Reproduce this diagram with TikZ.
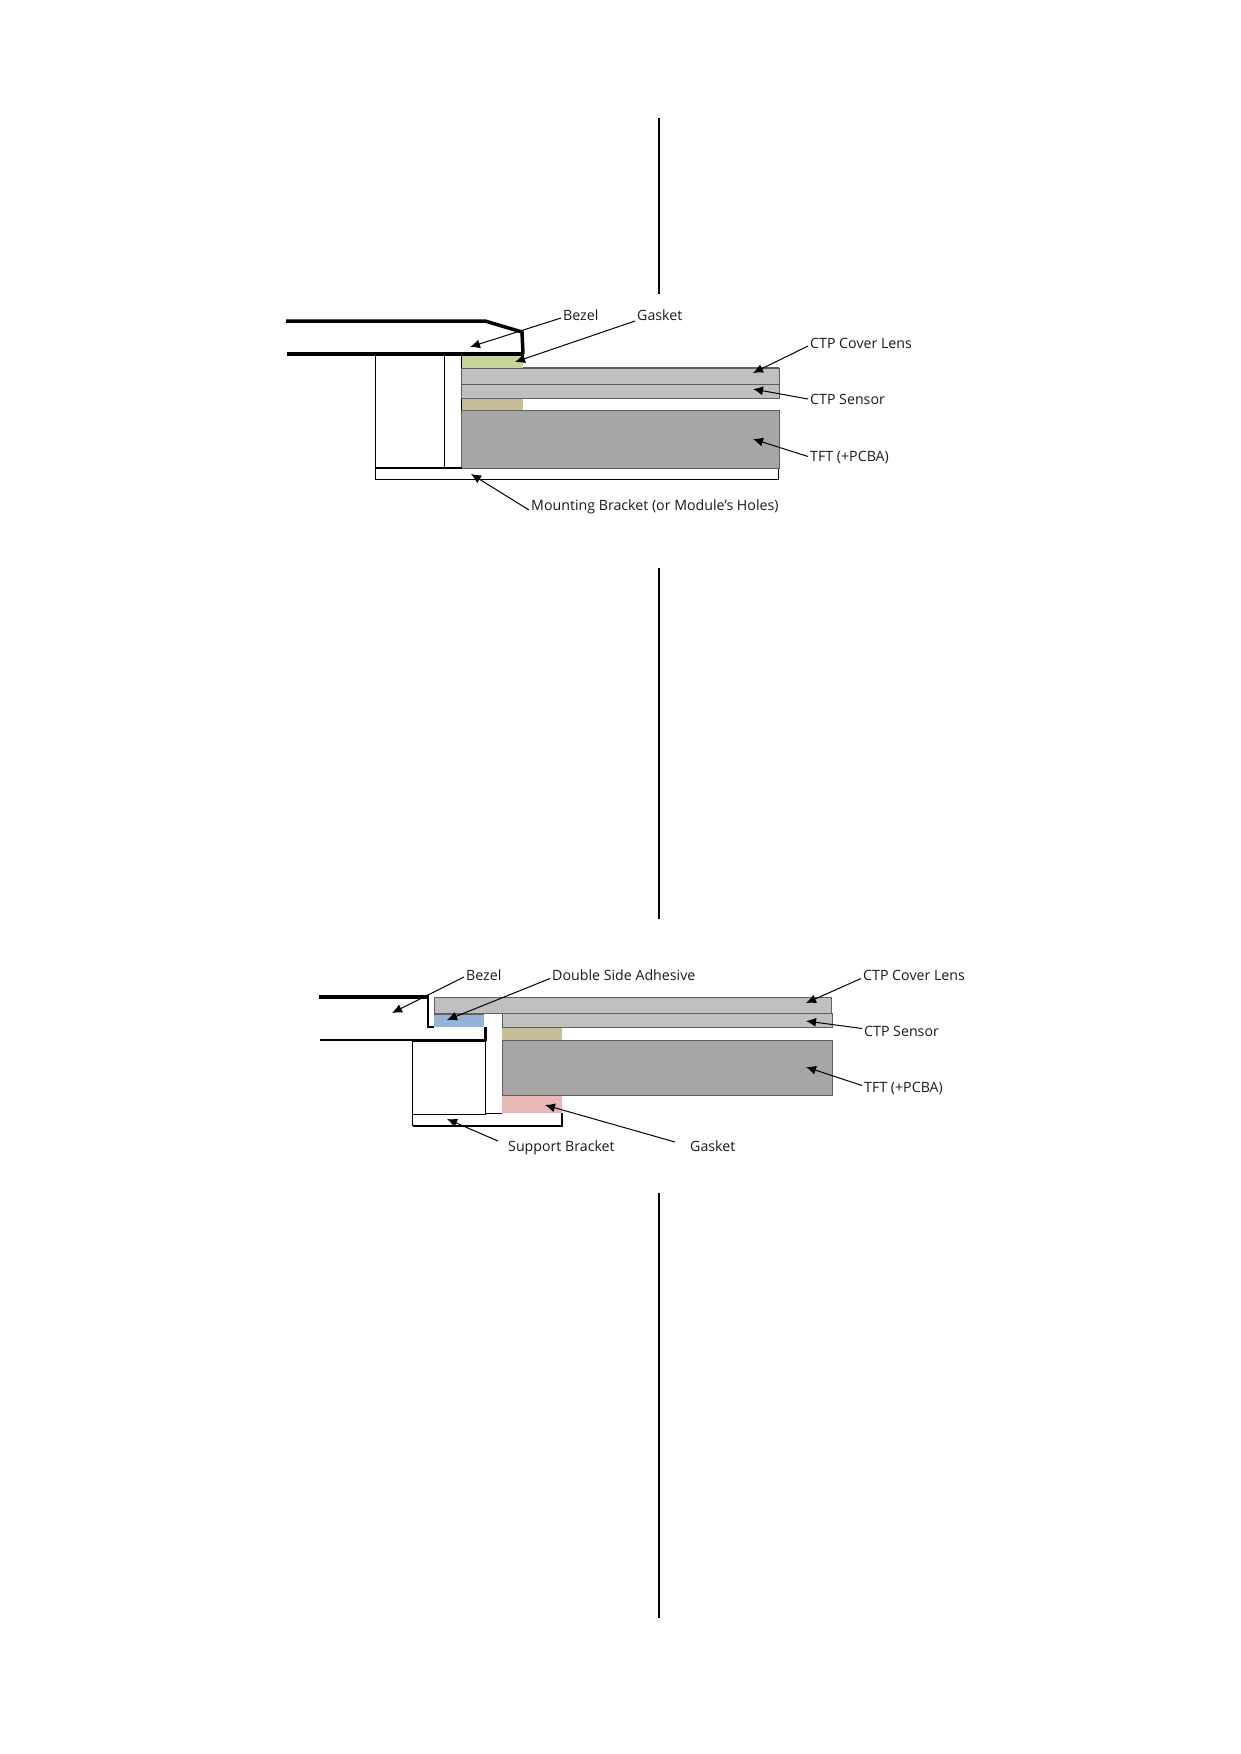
\documentclass[tikz,border=0pt]{standalone}
\usepackage{fontspec}
\setmainfont{Open Sans}
\usetikzlibrary{arrows.meta}
\definecolor{lensgrey}{RGB}{191,191,191}
\definecolor{tftgrey}{RGB}{166,166,166}
\definecolor{edgegrey}{RGB}{95,95,95}
\definecolor{gasketgreen}{RGB}{196,214,155}
\definecolor{tapetan}{RGB}{196,189,151}
\definecolor{tapeblue}{RGB}{149,179,215}
\definecolor{gasketpink}{RGB}{230,184,183}

\begin{document}
\begin{tikzpicture}
		[x=1pt, y=-1pt,
		label/.style={anchor=west, inner sep=2pt, text height=10.5pt, text depth=0pt, font=\fontsize{14.2}{17}\selectfont, text=black!90},
		pointer/.style={draw=black, line width=1pt, -{Latex[length=10pt, width=9pt]}},
		wall/.style={draw=black, line width=1pt, fill=white},
		heavy/.style={draw=black, line width=3.5pt},
		layer/.style={draw=edgegrey, line width=0.8pt},
		divider/.style={draw=black, line width=1.8pt}]
		\useasboundingbox (0,0) rectangle (1240,1754);

		\draw[divider] (659,118) -- (659,294);
		\draw[divider] (659,568) -- (659,919);
		\draw[divider] (659,1193) -- (659,1618);

		% upper module
		\draw[wall] (375.5,354) rectangle (461.5,468);
		\draw[wall] (444,354) -- (444,468);
		\draw[wall] (375.5,468) rectangle (778,479);
		\draw[layer, fill=lensgrey] (461.5,368) rectangle (779,384);
		\draw[layer, fill=lensgrey] (461.5,384) rectangle (779,398.5);
		\draw[edgegrey, line width=1.6pt] (523,368) -- (779,368);
		\draw[edgegrey, line width=1.6pt] (523,398.5) -- (779,398.5);
		\fill[gasketgreen] (461.5,355) rectangle (523,367.5);
		\fill[tapetan] (461.5,399) rectangle (523,410);
		\draw[layer, fill=tftgrey] (461.5,410) rectangle (779,468);
		\draw[draw=black, line width=1.6pt] (375.5,468) -- (461.5,468);
		\draw[heavy] (286,321) -- (485,321) -- (522,332) -- (523,354);
		\draw[heavy] (287,354) -- (524,354);

		\node[label] (bezel1) at (561,315) {Bezel};
		\node[label] (gasket1) at (635,315) {Gasket};
		\node[label] (lens1) at (808,343) {CTP Cover Lens};
		\node[label] (sensor1) at (808,399) {CTP Sensor};
		\node[label] (tft1) at (808,456.5) {TFT (+PCBA)};
		\node[label] (bracket1) at (529,505) {Mounting Bracket (or Module's Holes)};

		\coordinate (bezel1tip) at (470,347);
		\coordinate (gasket1tip) at (515,362);
		\coordinate (lens1tip) at (753,373);
		\coordinate (sensor1tip) at (753,389);
		\coordinate (tft1tip) at (753,439);
		\coordinate (bracket1tip) at (471,474);

		\draw[pointer] ([yshift=-3pt]bezel1.west) to (bezel1tip);
		\draw[pointer] ([yshift=-6pt]gasket1.west) to (gasket1tip);
		\draw[pointer] ([yshift=-3pt]lens1.west) to (lens1tip);
		\draw[pointer] (sensor1.west) to (sensor1tip);
		\draw[pointer] (tft1.west) to (tft1tip);
		\draw[pointer] ([yshift=-5pt]bracket1.west) to (bracket1tip);

		% lower module
		\draw[wall] (412.5,1041) rectangle (485,1114);
		\draw[wall] (485,1113) -- (502,1113);
		\draw[layer, fill=lensgrey] (434,997) rectangle (831,1013);
		\draw[layer, fill=lensgrey] (502,1013) rectangle (832,1027);
		\fill[tapeblue] (434,1014) rectangle (484,1027);
		\fill[edgegrey] (434,1013) rectangle (484,1015);
		\fill[tapetan] (502,1027.5) rectangle (562,1040);
		\draw[layer, fill=tftgrey] (502,1040) rectangle (832,1095);
		\fill[gasketpink] (502,1095.5) rectangle (562,1113);
		\draw[draw=black, line width=1pt] (412.5,1114) -- (412.5,1125.5);
		\draw[draw=black, line width=2pt] (412.5,1125.5) -- (562,1125.5) -- (562,1113);
		\draw[draw=black, line width=3.5pt] (319,997) -- (428,997);
		\draw[draw=black, line width=2.6pt] (428,995) -- (428,1027) -- (434,1027);
		\draw[draw=black, line width=3pt] (485.5,1027) -- (485.5,1041);
		\draw[draw=black, line width=2pt] (320,1040) -- (487,1040);

		\node[label] (bezel2) at (464,975) {Bezel};
		\node[label] (adhesive2) at (550,975.5) {Double Side Adhesive};
		\node[label] (lens2) at (861,975.5) {CTP Cover Lens};
		\node[label] (sensor2) at (862,1031.5) {CTP Sensor};
		\node[label] (tft2) at (862,1087.5) {TFT (+PCBA)};
		\node[label] (bracket2) at (506,1146) {Support Bracket};
		\node[label] (gasket2) at (688,1146) {Gasket};

		\coordinate (bezel2tip) at (392,1013);
		\coordinate (adhesive2tip) at (447,1020);
		\coordinate (lens2tip) at (806,1003);
		\coordinate (sensor2tip) at (806,1021);
		\coordinate (tft2tip) at (806,1067);
		\coordinate (bracket2tip) at (447,1119);
		\coordinate (gasket2tip) at (545,1105);

		\draw[pointer] ([yshift=-2pt]bezel2.west) to (bezel2tip);
		\draw[pointer] ([yshift=-3pt]adhesive2.west) to (adhesive2tip);
		\draw[pointer] ([yshift=-3pt]lens2.west) to (lens2tip);
		\draw[pointer] ([yshift=3pt]sensor2.west) to (sensor2tip);
		\draw[pointer] ([yshift=2pt]tft2.west) to (tft2tip);
		\draw[pointer] ([shift={(-8pt,5pt)}]bracket2.west) to (bracket2tip);
		\draw[pointer] ([shift={(-13pt,4pt)}]gasket2.west) to (gasket2tip);
	\end{tikzpicture}
\end{document}
